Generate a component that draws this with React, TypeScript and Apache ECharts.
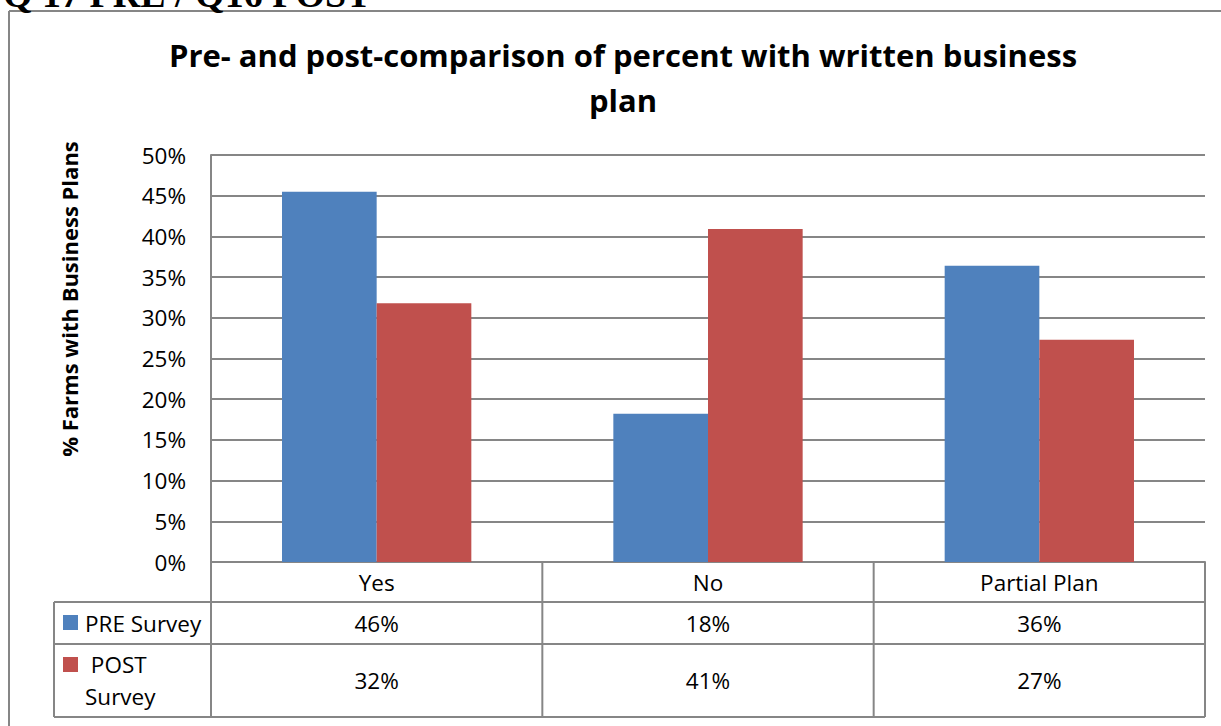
import React, { useEffect, useRef } from "react";
import * as echarts from "echarts";

const categories = ["Yes", "No", "Partial Plan"];
const seriesNames = ["PRE Survey", "POST Survey"];
const preSurvey = [45.5, 18.2, 36.4];
const postSurvey = [31.8, 40.9, 27.3];
const yMin = 0;
const yMax = 50;
const yInterval = 5;

const chartTitle = "Pre- and post-comparison of percent with written business\nplan";
const yTitle = "% Farms with Business Plans";
const pageHeading = "Q 17 PRE / Q16 POST";

const COLORS = ["#4F81BD", "#C0504D"];
const LINE = "#868686";
const FONT = "'Open Sans', sans-serif";

const W = 1221;
const H = 726;
const GL = 211;
const GT = 155;
const GR = 1205;
const GB = 562;
const ROW1 = 602;
const ROW2 = 644;
const ROW3 = 717;
const LEG_L = 54;

const pct = (v: number) => Math.round(v) + "%";

export default function App() {
  const ref = useRef<HTMLDivElement>(null);
  useEffect(() => {
    if (!ref.current) return;
    const chart = echarts.init(ref.current, null, { renderer: "svg" });
    const colW = (GR - GL) / categories.length;
    const tableLines: any[] = [];
    const ln = (x1: number, y1: number, x2: number, y2: number) =>
      tableLines.push({
        type: "line",
        shape: { x1, y1, x2, y2 },
        style: { stroke: LINE, lineWidth: 2 },
        silent: true,
      });
    for (let i = 0; i <= categories.length; i++) ln(GL + i * colW, GB, GL + i * colW, ROW3);
    ln(LEG_L, ROW1, LEG_L, ROW3);
    ln(LEG_L, ROW1, GR, ROW1);
    ln(LEG_L, ROW2, GR, ROW2);
    ln(LEG_L, ROW3, GR, ROW3);
    // outer chart frame
    ln(9, 11, 9, H + 5);
    ln(9, 11, W + 5, 11);

    const legendTexts = [seriesNames[0], " " + seriesNames[1].replace(" ", "\n")];
    const legendY = [615, 657];
    const legendTextY = [623, 680];
    const legendEls: any[] = [];
    seriesNames.forEach((_, i) => {
      legendEls.push({
        type: "rect",
        shape: { x: 63, y: legendY[i], width: 15, height: 15 },
        style: { fill: COLORS[i] },
      });
      legendEls.push({
        type: "text",
        x: 85,
        y: legendTextY[i],
        style: {
          text: legendTexts[i],
          font: `22.5px ${FONT}`,
          lineHeight: 32,
          fill: "#000",
          textAlign: "left",
          textVerticalAlign: "middle",
        },
      });
    });

    const valueAxis = (data: number[], margin: number) => ({
      type: "category",
      data: categories,
      gridIndex: 0,
      position: "bottom",
      offset: 0,
      axisLine: { show: false },
      axisTick: { show: false },
      splitLine: { show: false },
      axisLabel: {
        margin,
        interval: 0,
        fontFamily: FONT,
        fontSize: 22.5,
        lineHeight: 22.5,
        color: "#000",
        formatter: (_v: string, idx: number) => pct(data[idx]),
      },
    });

    chart.setOption({
      animation: false,
      backgroundColor: "#fff",
      title: {
        text: chartTitle,
        left: 618,
        top: 27,
        textAlign: "center",
        textStyle: {
          fontFamily: FONT,
          fontWeight: "bold",
          fontSize: 31,
          lineHeight: 45,
          color: "#000",
        },
      },
      grid: { left: GL, top: GT, width: GR - GL, height: GB - GT, containLabel: false },
      xAxis: [
        {
          type: "category",
          data: categories,
          axisLine: { show: true, lineStyle: { color: LINE, width: 2 } },
          axisTick: { show: false },
          splitLine: { show: false },
          axisLabel: {
            margin: 9,
            interval: 0,
            fontFamily: FONT,
            fontSize: 22.5,
            lineHeight: 22.5,
            color: "#000",
          },
        },
        valueAxis(preSurvey, 50),
        valueAxis(postSurvey, 107.5),
      ],
      yAxis: {
        type: "value",
        min: yMin,
        max: yMax,
        interval: yInterval,
        axisLine: { show: true, lineStyle: { color: LINE, width: 2 } },
        axisTick: { show: false },
        splitLine: { show: true, lineStyle: { color: LINE, width: 2 } },
        axisLabel: {
          margin: 25,
          fontFamily: FONT,
          fontSize: 22.5,
          color: "#000",
          formatter: "{value}%",
        },
      },
      series: [
        {
          name: seriesNames[0],
          type: "bar",
          data: preSurvey,
          xAxisIndex: 0,
          barGap: "0%",
          barCategoryGap: "42.86%",
          itemStyle: { color: COLORS[0] },
        },
        {
          name: seriesNames[1],
          type: "bar",
          data: postSurvey,
          xAxisIndex: 0,
          barGap: "0%",
          barCategoryGap: "42.86%",
          itemStyle: { color: COLORS[1] },
        },
      ],
      graphic: [
        ...tableLines,
        ...legendEls,
        {
          type: "text",
          x: 69,
          y: 299,
          rotation: Math.PI / 2,
          style: {
            text: yTitle,
            font: `bold 22px ${FONT}`,
            fill: "#000",
            textAlign: "center",
            textVerticalAlign: "middle",
          },
        },
        {
          type: "text",
          x: 3,
          y: -6,
          style: {
            text: pageHeading,
            font: `bold 38px 'Liberation Serif', serif`,
            fill: "#000",
            textAlign: "left",
            textVerticalAlign: "middle",
          },
        },
      ],
    });
    return () => chart.dispose();
  }, []);
  return (
    <div
      ref={ref}
      style={{ position: "fixed", left: 0, top: 0, width: W, height: H, background: "#fff" }}
    />
  );
}
